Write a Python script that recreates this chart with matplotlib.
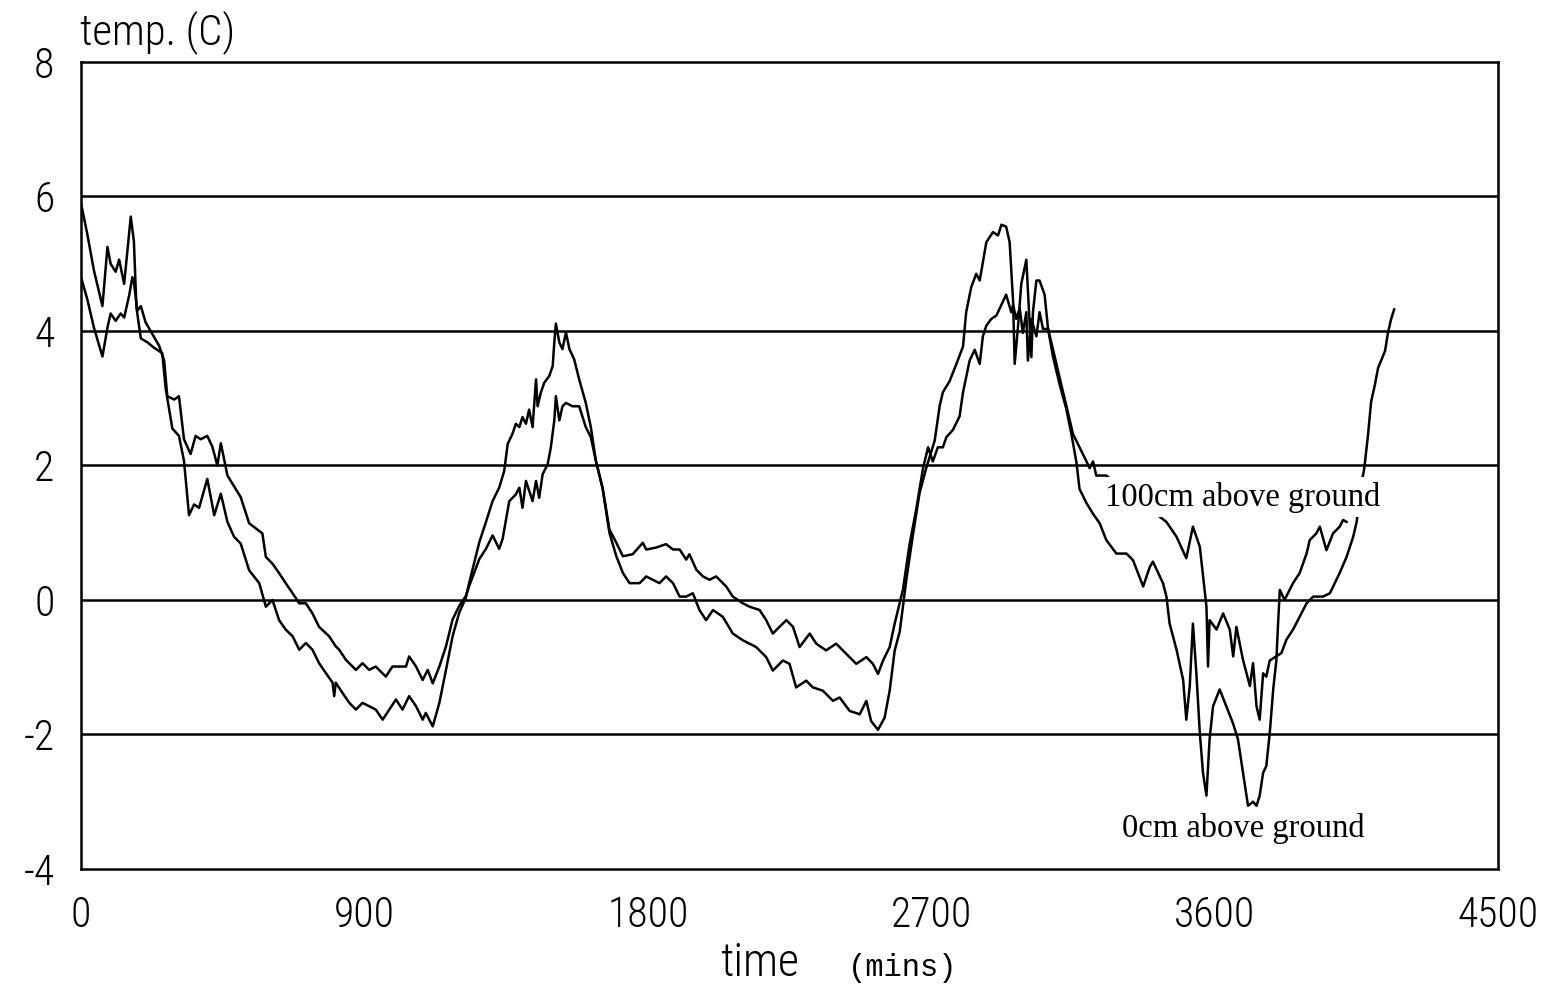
import matplotlib
matplotlib.use("Agg")
import matplotlib.pyplot as plt
from matplotlib import font_manager

plt.rcParams["axes.unicode_minus"] = False

# Temperature record, ground level (0 cm): time in minutes, temperature in C
t_ground = [0, 20, 41, 68, 84, 94, 110, 121, 137, 147, 158, 168, 176, 190, 211, 232,
            258, 269, 290, 311, 327, 343, 359, 375, 401, 423, 444, 465, 486, 507, 534,
            566, 587, 608, 629, 650, 672, 693, 714, 735, 756, 778, 799, 804, 809, 830,
            852, 873, 894, 915, 936, 958, 979, 1000, 1021, 1042, 1064, 1085, 1095, 1117,
            1138, 1159, 1180, 1201, 1222, 1233, 1265, 1286, 1307, 1328, 1344, 1355, 1370,
            1381, 1392, 1402, 1413, 1423, 1434, 1445, 1450, 1460, 1471, 1487, 1498, 1503,
            1508, 1519, 1529, 1540, 1551, 1566, 1582, 1603, 1619, 1635, 1656, 1678, 1700,
            1721, 1742, 1774, 1795, 1816, 1837, 1858, 1880, 1901, 1922, 1943, 1964, 1985,
            2007, 2038, 2070, 2102, 2144, 2176, 2197, 2229, 2250, 2271, 2303, 2324, 2356,
            2388, 2409, 2441, 2473, 2494, 2509, 2531, 2552, 2568, 2584, 2600, 2621, 2642,
            2663, 2684, 2711, 2727, 2737, 2758, 2780, 2801, 2811, 2827, 2843, 2854, 2875,
            2896, 2912, 2923, 2938, 2949, 2960, 2965, 2975, 2986, 3002, 3013, 3018, 3023,
            3034, 3044, 3060, 3071, 3087, 3108, 3129, 3145, 3161, 3171, 3193, 3214, 3235,
            3256, 3288, 3320, 3341, 3373, 3394, 3404, 3436, 3447, 3457, 3479, 3500, 3510,
            3521, 3531, 3542, 3553, 3563, 3574, 3584, 3595, 3616, 3637, 3658, 3674, 3690,
            3706, 3722, 3733, 3743, 3754, 3764, 3775, 3786, 3796, 3802, 3807, 3822, 3849,
            3870, 3892, 3902, 3923, 3934, 3955, 3976, 3997, 4008, 4019]
temp_ground = [5.9, 5.44, 4.9, 4.37, 5.25, 5.0, 4.88, 5.06, 4.7, 5.17, 5.7, 5.33, 4.35, 3.89,
               3.83, 3.75, 3.67, 3.14, 2.55, 2.44, 2.07, 1.26, 1.42, 1.37, 1.8, 1.26, 1.58,
               1.16, 0.94, 0.84, 0.44, 0.25, -0.1, 0.0, -0.3, -0.44, -0.54, -0.74, -0.64,
               -0.74, -0.94, -1.09, -1.23, -1.43, -1.23, -1.38, -1.53, -1.63, -1.53, -1.58,
               -1.63, -1.78, -1.63, -1.48, -1.63, -1.43, -1.58, -1.78, -1.68, -1.88, -1.53,
               -1.04, -0.54, -0.19, 0.03, 0.26, 0.86, 1.16, 1.47, 1.67, 1.92, 2.32, 2.47,
               2.62, 2.57, 2.72, 2.62, 2.83, 2.57, 3.28, 2.88, 3.08, 3.23, 3.33, 3.48, 3.83,
               4.11, 3.83, 3.73, 3.98, 3.73, 3.58, 3.28, 2.93, 2.57, 2.07, 1.67, 1.0, 0.65,
               0.4, 0.25, 0.25, 0.35, 0.3, 0.25, 0.35, 0.25, 0.05, 0.05, 0.1, -0.15, -0.3,
               -0.15, -0.25, -0.5, -0.6, -0.7, -0.85, -1.05, -0.9, -0.95, -1.3, -1.2, -1.3,
               -1.35, -1.5, -1.45, -1.65, -1.7, -1.5, -1.8, -1.93, -1.75, -1.35, -0.75,
               -0.47, 0.3, 0.97, 1.59, 1.96, 2.37, 2.89, 3.09, 3.25, 3.51, 3.77, 4.28, 4.65,
               4.85, 4.75, 5.32, 5.47, 5.42, 5.58, 5.55, 5.32, 4.44, 3.51, 4.03, 4.7, 5.06,
               4.08, 3.61, 4.28, 4.75, 4.75, 4.54, 4.03, 3.61, 3.2, 2.84, 2.47, 2.05, 1.65,
               1.44, 1.28, 1.14, 0.89, 0.69, 0.69, 0.59, 0.2, 0.49, 0.57, 0.25, 0.05, -0.35,
               -0.74, -1.19, -1.78, -1.28, -0.35, -1.09, -1.98, -2.57, -2.91, -2.07, -1.58,
               -1.33, -1.58, -1.83, -2.07, -2.57, -3.06, -3.0, -3.06, -2.91, -2.57, -2.47,
               -1.98, -1.33, -0.9, -0.3, 0.15, 0.0, 0.25, 0.4, 0.69, 0.89, 0.99, 1.09, 0.74,
               0.99, 1.09, 1.19, 1.16]

# Temperature record, 100 cm above ground
t_air = [0, 20, 41, 68, 84, 94, 110, 126, 137, 153, 163, 168, 179, 190, 205, 221, 248,
         264, 274, 296, 311, 327, 348, 364, 380, 401, 417, 433, 444, 465, 486, 507, 534,
         576, 587, 608, 629, 650, 672, 693, 714, 735, 756, 788, 809, 820, 841, 873, 894,
         915, 936, 968, 989, 1011, 1032, 1042, 1064, 1085, 1101, 1117, 1138, 1159, 1180,
         1201, 1222, 1233, 1265, 1286, 1307, 1328, 1339, 1360, 1381, 1392, 1402, 1413,
         1434, 1445, 1455, 1466, 1482, 1492, 1503, 1508, 1519, 1529, 1540, 1561, 1582,
         1603, 1619, 1635, 1657, 1678, 1700, 1721, 1752, 1784, 1795, 1827, 1858, 1880,
         1901, 1922, 1932, 1954, 1975, 1996, 2017, 2049, 2070, 2102, 2123, 2155, 2176,
         2197, 2218, 2240, 2261, 2282, 2314, 2335, 2366, 2398, 2430, 2462, 2494, 2515,
         2531, 2547, 2568, 2584, 2610, 2631, 2652, 2674, 2690, 2705, 2721, 2737, 2748,
         2769, 2790, 2801, 2822, 2838, 2854, 2864, 2875, 2891, 2907, 2928, 2938, 2954,
         2960, 2970, 2981, 2991, 3002, 3007, 3018, 3034, 3044, 3055, 3071, 3087, 3108,
         3129, 3150, 3171, 3193, 3203, 3214, 3224, 3256, 3447, 3479, 3510, 3531, 3553,
         3574, 3579, 3584, 3606, 3627, 3648, 3659, 3669, 3690, 3712, 3722, 3733, 3743,
         3754, 3764, 3775, 3812, 3828, 3849, 3870, 3892, 3913, 3944, 3966, 3997, 4019,
         4040, 4051, 4065, 4075, 4087, 4097, 4109, 4119, 4141, 4150, 4160, 4170]
temp_air = [4.8, 4.47, 4.05, 3.62, 4.05, 4.26, 4.15, 4.26, 4.2, 4.53, 4.8, 4.72, 4.3, 4.37,
            4.13, 4.0, 3.78, 3.56, 3.03, 2.98, 3.03, 2.39, 2.17, 2.44, 2.39, 2.44, 2.28,
            2.0, 2.33, 1.85, 1.69, 1.53, 1.14, 0.99, 0.64, 0.54, 0.4, 0.25, 0.1, -0.05,
            -0.05, -0.2, -0.4, -0.54, -0.69, -0.74, -0.89, -1.04, -0.94, -1.04, -0.99,
            -1.14, -0.99, -0.99, -0.99, -0.84, -0.99, -1.19, -1.04, -1.24, -0.99, -0.69,
            -0.29, -0.09, 0.06, 0.21, 0.61, 0.76, 0.96, 0.76, 0.91, 1.47, 1.57, 1.67, 1.37,
            1.77, 1.47, 1.77, 1.52, 1.87, 2.02, 2.27, 2.67, 3.03, 2.67, 2.88, 2.93, 2.88,
            2.88, 2.57, 2.42, 2.07, 1.65, 1.05, 0.85, 0.65, 0.68, 0.85, 0.75, 0.78, 0.83,
            0.75, 0.75, 0.6, 0.68, 0.45, 0.35, 0.3, 0.35, 0.2, 0.05, -0.05, -0.1, -0.15,
            -0.3, -0.5, -0.4, -0.3, -0.4, -0.7, -0.5, -0.65, -0.75, -0.65, -0.8, -0.95,
            -0.85, -0.95, -1.1, -0.9, -0.7, -0.35, 0.15, 0.82, 1.34, 1.96, 2.27, 2.06,
            2.27, 2.27, 2.42, 2.53, 2.73, 3.09, 3.56, 3.72, 3.51, 3.92, 4.08, 4.18, 4.23,
            4.44, 4.54, 4.28, 4.39, 4.18, 4.34, 3.97, 4.28, 3.56, 4.18, 3.92, 4.28, 4.03,
            4.03, 3.72, 3.3, 2.89, 2.47, 2.27, 2.06, 1.96, 2.06, 1.85, 1.85, 1.16, 0.94,
            0.62, 1.09, 0.79, -0.1, -0.99, -0.3, -0.44, -0.2, -0.44, -0.84, -0.4, -0.89,
            -1.28, -0.94, -1.58, -1.78, -1.09, -1.14, -0.9, -0.79, -0.59, -0.44, -0.25,
            -0.05, 0.05, 0.05, 0.1, 0.4, 0.64, 0.94, 1.16, 1.7, 1.95, 2.45, 2.95, 3.2,
            3.45, 3.7, 3.96, 4.17, 4.32]

x_ticks = [0, 900, 1800, 2700, 3600, 4500]
y_ticks = [-4, -2, 0, 2, 4, 6, 8]
label_air = "100cm above ground"
label_ground = "0cm above ground"

# Thin, narrow face for the axis text; fall back to DejaVu Sans if needed
installed = {f.name for f in font_manager.fontManager.ttflist}
plot_font = [f for f in ["Liberation Sans Narrow", "DejaVu Sans Condensed",
                         "Roboto Condensed", "Open Sans Condensed"] if f in installed]
plot_font += ["DejaVu Sans"]
axis_text = dict(family=plot_font, stretch="condensed", weight="light")

fig = plt.figure(figsize=(15.49, 9.85), dpi=100)
ax = fig.add_axes([0.0523, 0.1178, 0.9148, 0.8193])

ax.plot(t_ground, temp_ground, color="black", lw=1.8, zorder=3)
ax.plot(t_air, temp_air, color="black", lw=1.8, zorder=3)

ax.set_xlim(0, 4500)
ax.set_ylim(-4, 8)
ax.set_xticks(x_ticks)
ax.set_yticks(y_ticks)
ax.set_xticklabels([str(v) for v in x_ticks], fontsize=30, **axis_text)
ax.set_yticklabels([str(v) for v in y_ticks], fontsize=30, **axis_text)
ax.tick_params(axis="both", length=0)
ax.tick_params(axis="y", pad=19)
ax.tick_params(axis="x", pad=19)

for v in y_ticks[1:-1]:
    ax.axhline(v, color="black", lw=1.8, zorder=2)
for s in ax.spines.values():
    s.set_linewidth(1.8)
    s.set_color("black")

ax.text(3690, 1.53, label_air, family="Liberation Serif", fontsize=23.5,
        ha="center", va="center", zorder=5,
        bbox=dict(facecolor="white", edgecolor="none", pad=3))
ax.text(3690, -3.4, label_ground, family="Liberation Serif", fontsize=23.5,
        ha="center", va="center", zorder=5)

fig.text(80 / 1549, 1 - 32 / 985, "temp. (C)", fontsize=31, ha="left", va="center",
         **axis_text)
fig.text(760 / 1549, 1 - 963 / 985, "time", fontsize=33, ha="center", va="center",
         **axis_text)
fig.text(903 / 1549, 1 - 968 / 985, "(mins)", family="Liberation Mono", fontsize=22,
         ha="center", va="center")

fig.savefig("out.png", dpi=100, facecolor="white")
